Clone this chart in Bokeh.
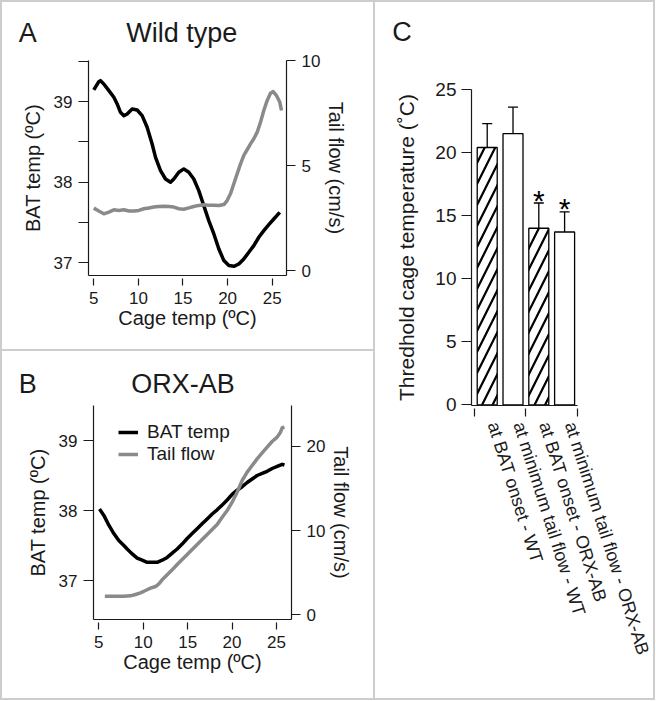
from bokeh.plotting import figure
from bokeh.models import (Range1d, LinearAxis, FixedTicker, Legend, LegendItem,
                          ColumnDataSource, Whisker, TeeHead)
from bokeh.layouts import row, column
from bokeh.embed import file_html
from bokeh.resources import INLINE
from bokeh.core.properties import value

FONT = "Liberation Sans"
INK = "#1a1a1a"
FLOW_COLOR = "#8a8a8a"
SEP = "#cdcdcd"

# ---------------- data ----------------
cage_ticks = [5, 10, 15, 20, 25]

# Panel A - Wild type
wt_bat_x = [5.00, 5.56, 5.75, 6.12, 6.69, 7.25, 7.62, 7.99, 8.37, 8.74, 9.30, 9.86, 10.42,
            10.98, 11.54, 11.92, 12.48, 13.04, 13.60, 13.97, 14.53, 15.09, 15.65, 16.21,
            16.77, 17.33, 17.89, 18.46, 19.02, 19.58, 20.14, 20.70, 21.26, 21.82, 22.38,
            22.94, 23.50, 24.06, 24.62, 25.18, 25.85]
wt_bat_y = [39.145, 39.248, 39.261, 39.219, 39.137, 39.054, 38.971, 38.867, 38.826, 38.847,
            38.909, 38.896, 38.826, 38.681, 38.474, 38.308, 38.143, 38.039, 37.998, 38.039,
            38.122, 38.164, 38.122, 38.039, 37.894, 37.708, 37.522, 37.356, 37.170, 37.025,
            36.963, 36.954, 36.983, 37.046, 37.128, 37.211, 37.315, 37.398, 37.472, 37.542,
            37.625]
wt_flow_x = [5.00, 5.56, 6.12, 6.69, 7.25, 7.81, 8.37, 8.93, 9.49, 10.05, 10.61, 11.17,
             11.73, 12.29, 12.85, 13.41, 13.97, 14.53, 15.09, 15.65, 16.21, 16.77, 17.33,
             17.89, 18.46, 19.02, 19.58, 19.95, 20.32, 20.70, 21.07, 21.45, 21.82, 22.19,
             22.57, 22.94, 23.32, 23.69, 24.06, 24.44, 24.81, 25.11, 25.48, 25.85, 26.04]
wt_flow_y = [2.97, 2.83, 2.70, 2.78, 2.89, 2.86, 2.89, 2.83, 2.83, 2.86, 2.94, 2.98, 3.02,
             3.05, 3.06, 3.05, 3.02, 2.94, 2.92, 2.98, 3.05, 3.10, 3.13, 3.11, 3.11, 3.10,
             3.14, 3.33, 3.65, 4.13, 4.60, 5.08, 5.48, 5.75, 6.03, 6.27, 6.59, 7.06, 7.62,
             8.10, 8.44, 8.52, 8.33, 8.02, 7.62]

# Panel B - ORX-AB
orx_bat_x = [5.08, 5.57, 6.13, 6.69, 7.25, 7.82, 8.19, 8.76, 9.32, 9.88, 10.44, 11.01,
             11.57, 12.13, 12.70, 13.26, 13.82, 14.38, 14.95, 15.51, 16.07, 16.63, 17.20,
             17.76, 18.32, 18.89, 19.45, 20.01, 20.57, 21.14, 21.70, 22.26, 22.82, 23.39,
             23.95, 24.51, 25.08, 25.64, 25.90]
orx_bat_y = [38.02, 37.93, 37.79, 37.67, 37.57, 37.50, 37.45, 37.38, 37.32, 37.29, 37.26,
             37.26, 37.26, 37.29, 37.33, 37.39, 37.45, 37.52, 37.60, 37.67, 37.74, 37.81,
             37.88, 37.95, 38.01, 38.08, 38.15, 38.23, 38.29, 38.34, 38.40, 38.45, 38.50,
             38.53, 38.56, 38.60, 38.63, 38.66, 38.65]
orx_flow_x = [5.68, 6.32, 7.07, 7.82, 8.57, 9.13, 9.69, 10.26, 10.82, 11.38, 11.76, 12.13,
              12.70, 13.26, 13.82, 14.38, 14.95, 15.51, 16.07, 16.63, 17.20, 17.76, 18.32,
              18.89, 19.45, 20.01, 20.57, 21.14, 21.70, 22.26, 22.82, 23.39, 23.95, 24.51,
              25.08, 25.45, 25.64, 25.90]
orx_flow_y = [2.21, 2.21, 2.21, 2.21, 2.25, 2.41, 2.61, 2.89, 3.16, 3.36, 3.68, 4.16, 4.75,
              5.34, 5.98, 6.57, 7.17, 7.76, 8.35, 8.95, 9.54, 10.14, 10.73, 11.60, 12.39,
              13.38, 14.57, 15.96, 16.95, 17.74, 18.53, 19.25, 19.92, 20.59, 21.11, 21.70,
              22.22, 22.30]

# Panel C - threshold cage temperature
bar_labels = ["at BAT onset - WT", "at minimum tail flow - WT",
              "at BAT onset - ORX-AB", "at minimum tail flow - ORX-AB"]
bar_values = [20.4, 21.5, 14.0, 13.7]
bar_errors = [1.9, 2.1, 2.0, 1.6]
bar_hatch = ["/", " ", "/", " "]
bar_signif = ["", "", "*", "*"]
thr_ticks = [0, 5, 10, 15, 20, 25]

LABEL_SHIFT = 0.23   # rotated category labels start just left of the bar centre


def no_frame_align(p):
    try:
        p.frame_align = False
    except Exception:
        pass


def style_axis(ax, tick_px, tick_in=0, tick_out=10, standoff=6,
               label_px=20, label_standoff=6):
    ax.axis_line_color = INK
    ax.axis_line_width = 1.2
    ax.major_tick_line_color = INK
    ax.major_tick_line_width = 1.2
    ax.major_tick_in = tick_in
    ax.major_tick_out = tick_out
    ax.minor_tick_line_color = INK
    ax.minor_tick_line_width = 1.2
    ax.minor_tick_in = tick_in
    ax.minor_tick_out = tick_out
    ax.major_label_text_font = FONT
    ax.major_label_text_font_size = f"{tick_px}px"
    ax.major_label_text_color = INK
    ax.major_label_standoff = standoff
    ax.axis_label_text_font = FONT
    ax.axis_label_text_font_style = "normal"
    ax.axis_label_text_font_size = f"{label_px}px"
    ax.axis_label_text_color = INK
    ax.axis_label_standoff = label_standoff


def header(width, height, items):
    """Strip above a panel holding the panel letter and the panel title."""
    h = figure(width=width, height=height, x_range=Range1d(0, width), y_range=Range1d(0, height),
               output_backend="svg", toolbar_location=None, title=None,
               x_axis_type=None, y_axis_type=None,
               min_border_left=0, min_border_right=0, min_border_top=0, min_border_bottom=0)
    no_frame_align(h)
    h.grid.visible = False
    h.outline_line_color = None
    for text, x, y, align in items:
        h.text(x=[x], y=[y], text=[text], text_align=align, text_baseline="alphabetic",
               text_font=value(FONT), text_font_size="27px", text_color=INK)
    return h


def curve_panel(height, borders, x_rng, y_rng, flow_rng, bat_x, bat_y, flow_x, flow_y,
                bat_ticks, bat_minor, flow_ticks):
    left, right, top, bottom = borders
    p = figure(width=371, height=height, x_range=Range1d(*x_rng), y_range=Range1d(*y_rng),
               output_backend="svg", toolbar_location=None, title=None,
               min_border_left=left, min_border_right=right,
               min_border_top=top, min_border_bottom=bottom)
    no_frame_align(p)
    p.extra_y_ranges = {"flow": Range1d(*flow_rng)}
    p.grid.visible = False
    p.outline_line_color = None

    p.xaxis.ticker = FixedTicker(ticks=cage_ticks)
    p.xaxis.axis_label = "Cage temp (ºC)"
    style_axis(p.xaxis[0], 17, tick_in=-3, tick_out=10, standoff=6, label_px=20,
               label_standoff=0)

    p.yaxis.ticker = FixedTicker(ticks=bat_ticks, minor_ticks=bat_minor)
    p.yaxis.axis_label = "BAT temp (ºC)"
    style_axis(p.yaxis[0], 17, tick_out=10, standoff=6, label_px=20, label_standoff=7)

    rax = LinearAxis(y_range_name="flow", ticker=FixedTicker(ticks=flow_ticks),
                     axis_label="Tail flow (cm/s)")
    style_axis(rax, 17, tick_out=9, standoff=6, label_px=20, label_standoff=2)
    p.add_layout(rax, "right")

    r_bat = p.line(bat_x, bat_y, line_color="black", line_width=3.5, line_join="round")
    r_flow = p.line(flow_x, flow_y, line_color=FLOW_COLOR, line_width=3.5,
                    line_join="round", y_range_name="flow")
    return p, r_bat, r_flow


# ---- Panel A ----
hA = header(371, 50, [("A", 16.3, 20, "left"), ("Wild type", 179.3, 20, "center")])
pA, _, _ = curve_panel(297, (86, 87, 8, 74), (4.406, 26.604), (36.84, 39.511),
                       (-0.238, 10.0), wt_bat_x, wt_bat_y, wt_flow_x, wt_flow_y,
                       [37, 38, 39], [37.5, 38.5, 39.5], [0, 5, 10])

# ---- Panel B ----
hB = header(371, 50, [("B", 16.3, 17.7, "left"), ("ORX-AB", 180.5, 17.7, "center")])
pB, rb, rf = curve_panel(297, (91, 82, 4, 79), (4.403, 26.69), (36.443, 39.5),
                         (-0.559, 24.87), orx_bat_x, orx_bat_y, orx_flow_x, orx_flow_y,
                         [37, 38, 39], [], [0, 10, 20])
legend = Legend(items=[LegendItem(label="BAT temp", renderers=[rb]),
                       LegendItem(label="Tail flow", renderers=[rf])],
                location=(25, 154), glyph_width=20, glyph_height=20, label_standoff=9,
                spacing=0, padding=10, margin=0, border_line_color=None,
                background_fill_alpha=0, label_text_font=FONT,
                label_text_font_size="19px", label_text_color=INK)
pB.add_layout(legend)

# ---- Panel C ----
xs = [1, 2, 3, 4]
src = ColumnDataSource(dict(x=xs, top=bar_values,
                            upper=[v + e for v, e in zip(bar_values, bar_errors)],
                            hatch=bar_hatch, sig=bar_signif))
hC = header(278, 58, [("C", 16.7, 28.3, "left")])
pC = figure(width=278, height=638, x_range=Range1d(0.391, 4.5), y_range=Range1d(-0.055, 25.0),
            output_backend="svg", toolbar_location=None, title=None,
            min_border_left=96, min_border_right=76, min_border_top=29, min_border_bottom=293)
no_frame_align(pC)
pC.grid.visible = False
pC.outline_line_color = None
pC.vbar(x="x", top="top", bottom=0, width=0.775, source=src, fill_color="white",
        line_color="black", line_width=1.3, hatch_pattern="hatch", hatch_color="black",
        hatch_weight=2.2, hatch_scale=21)
pC.add_layout(Whisker(source=src, base="x", lower="top", upper="upper", dimension="height",
                      line_color="black", line_width=1.3, lower_head=None,
                      upper_head=TeeHead(size=10, line_color="black", line_width=1.3)))
pC.text(x="x", y="upper", text="sig", source=src, text_align="center",
        text_baseline="middle", y_offset=-3, text_font=value(FONT),
        text_font_size="30px", text_color="black")

pC.yaxis.ticker = FixedTicker(ticks=thr_ticks)
pC.yaxis.axis_label = "Thredhold cage temperature (˚C)"
style_axis(pC.yaxis[0], 19, tick_out=10, standoff=5, label_px=21, label_standoff=14)

label_ticks = [x + LABEL_SHIFT for x in xs]
pC.xaxis.ticker = FixedTicker(ticks=label_ticks, minor_ticks=[0.5, 2.5, 4.5])
pC.xaxis.major_label_overrides = {t: lab for t, lab in zip(label_ticks, bar_labels)}
style_axis(pC.xaxis[0], 18, tick_in=-3, tick_out=11, standoff=6)
pC.xaxis.major_tick_line_color = None
pC.xaxis.major_tick_out = 0
pC.xaxis.major_tick_in = 0
pC.xaxis.major_label_orientation = -1.265

WHITE = {"background-color": "white"}
left_col = column(column(hA, pA, spacing=0, styles=WHITE),
                  column(hB, pB, spacing=0, styles=WHITE),
                  spacing=2, margin=(2, 0, 2, 2))
right_col = column(hC, pC, spacing=0, margin=(2, 2, 2, 0), styles=WHITE)
layout = row(left_col, right_col, spacing=2, styles={"background-color": SEP})

open("out.html", "w").write(file_html(layout, INLINE))
